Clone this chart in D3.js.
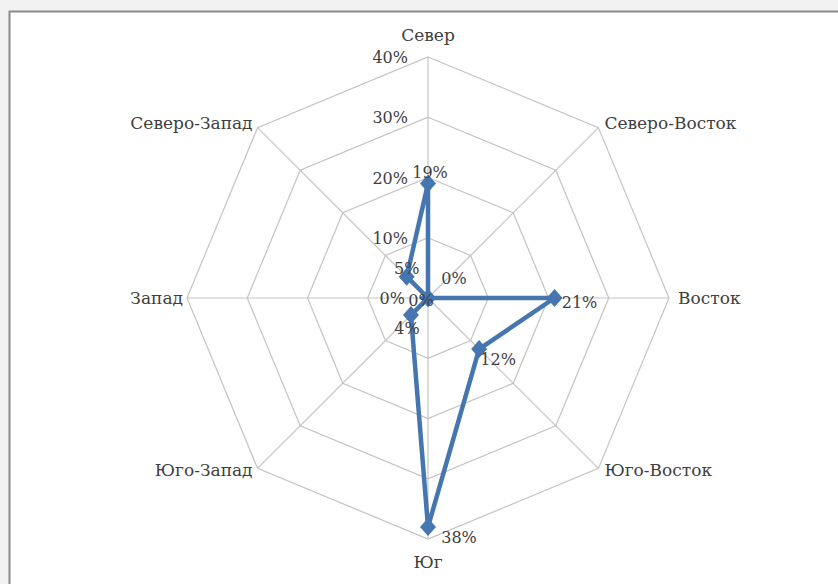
<!DOCTYPE html>
<html>
<head>
<meta charset="utf-8">
<script src="https://cdn.jsdelivr.net/npm/d3@7/dist/d3.min.js"></script>
<style>
  html, body { margin: 0; padding: 0; background: #f2f2f2; }
  svg { display: block; }
  svg text { font-family: "DejaVu Serif", "Liberation Serif", serif; }
</style>
</head>
<body>
<svg id="chart" width="838" height="584"></svg>
<script>
// Wind direction frequencies, share of observations
const directions = ["Север", "Северо-Восток", "Восток", "Юго-Восток", "Юг", "Юго-Запад", "Запад", "Северо-Запад"];
const shares = [0.19, 0.00, 0.21, 0.12, 0.38, 0.04, 0.00, 0.05];
const ringTicks = [0, 0.10, 0.20, 0.30, 0.40];

const cx = 428, cy = 298, R = 241;
const lineColor = "#4576b0";
const gridColor = "#c4c4c4";
const textColor = "#404040";

const svg = d3.select("#chart");

// chart area frame
svg.append("rect")
  .attr("x", 9.5).attr("y", 11.5)
  .attr("width", 840).attr("height", 600)
  .attr("fill", "#ffffff")
  .attr("stroke", "#8a8a8a").attr("stroke-width", 2);

const r = d3.scaleLinear().domain([0, 0.40]).range([0, R]);
const angle = d3.scalePoint().domain(directions).range([0, 2 * Math.PI * 7 / 8]);

function pt(dir, v) {
  const a = angle(dir);
  return [cx + r(v) * Math.sin(a), cy - r(v) * Math.cos(a)];
}

const g = svg.append("g");

// concentric octagons
ringTicks.filter(t => t > 0).forEach(t => {
  g.append("polygon")
    .attr("points", directions.map(d => pt(d, t).join(",")).join(" "))
    .attr("fill", "none")
    .attr("stroke", gridColor)
    .attr("stroke-width", 1.2);
});

// spokes
directions.forEach(d => {
  const [x, y] = pt(d, 0.40);
  g.append("line")
    .attr("x1", cx).attr("y1", cy).attr("x2", x).attr("y2", y)
    .attr("stroke", gridColor).attr("stroke-width", 1.2);
});

// radial axis labels along the north spoke
g.selectAll("text.tick")
  .data(ringTicks)
  .join("text")
  .attr("class", "tick")
  .attr("x", t => t === 0 ? cx - 23 : cx - 20)
  .attr("y", t => cy - r(t) + 6)
  .attr("text-anchor", "end")
  .attr("font-size", 16)
  .attr("fill", textColor)
  .text(t => d3.format(".0%")(t));

// category labels
const catPos = {
  "Север":          { dx: 0,   dy: -16, anchor: "middle" },
  "Северо-Восток":  { dx: 6,   dy: 1,   anchor: "start" },
  "Восток":         { dx: 9,   dy: 6,   anchor: "start" },
  "Юго-Восток":     { dx: 6,   dy: 8,   anchor: "start" },
  "Юг":             { dx: 0,   dy: 29,  anchor: "middle" },
  "Юго-Запад":      { dx: -5,  dy: 8,   anchor: "end" },
  "Запад":          { dx: -4,  dy: 6,   anchor: "end" },
  "Северо-Запад":   { dx: -5,  dy: 1,   anchor: "end" }
};
g.selectAll("text.cat")
  .data(directions)
  .join("text")
  .attr("class", "cat")
  .attr("x", d => pt(d, 0.40)[0] + catPos[d].dx)
  .attr("y", d => pt(d, 0.40)[1] + catPos[d].dy)
  .attr("text-anchor", d => catPos[d].anchor)
  .attr("font-size", 17)
  .attr("fill", textColor)
  .text(d => d);

// series polygon
const pts = directions.map((d, i) => pt(d, shares[i]));
g.append("path")
  .attr("d", d3.line().curve(d3.curveLinearClosed)(pts))
  .attr("fill", "none")
  .attr("stroke", lineColor)
  .attr("stroke-width", 4.5)
  .attr("stroke-linejoin", "round");

// diamond markers (16 wide, 18 tall)
const diamond = {
  draw(ctx) {
    ctx.moveTo(0, -9); ctx.lineTo(8, 0); ctx.lineTo(0, 9); ctx.lineTo(-8, 0); ctx.closePath();
  }
};
g.selectAll("path.marker")
  .data(pts)
  .join("path")
  .attr("class", "marker")
  .attr("d", d3.symbol(diamond)())
  .attr("transform", p => `translate(${p[0]},${p[1]})`)
  .attr("fill", lineColor);

// value labels
const labelOffset = [
  [2, -6], [26, -14], [25, 10], [19, 16], [31, 16], [-4, 19], [-7, 8], [0, -3]
];
g.selectAll("text.val")
  .data(shares)
  .join("text")
  .attr("class", "val")
  .attr("x", (v, i) => pts[i][0] + labelOffset[i][0])
  .attr("y", (v, i) => pts[i][1] + labelOffset[i][1])
  .attr("text-anchor", "middle")
  .attr("font-size", 16)
  .attr("fill", textColor)
  .text(v => d3.format(".0%")(v));
</script>
</body>
</html>
